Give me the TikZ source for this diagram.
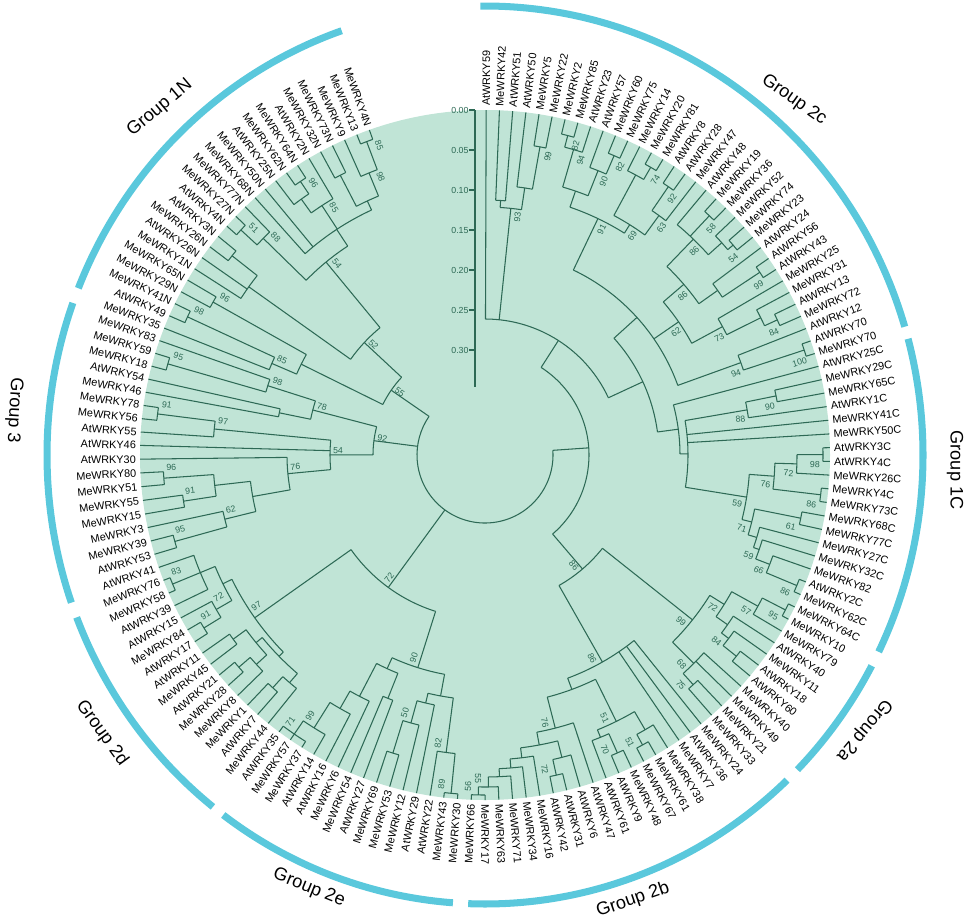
\documentclass[tikz,border=0pt]{standalone}
\usepackage{fontspec}
\setmainfont{Liberation Sans}
\definecolor{disc}{RGB}{192,228,214}
\definecolor{twig}{RGB}{45,105,85}
\definecolor{band}{RGB}{90,200,220}

% angle store for tree nodes
\makeatletter
\newcommand\setang[2]{\expandafter\xdef\csname tang@#1\endcsname{#2}}
\newcommand\getang[1]{\csname tang@#1\endcsname}
\makeatother

\def\rtip{345}
\def\rlab{349}

\tikzset{
  branch/.style={twig, line width=0.9pt},
  taxon/.style={inner sep=0pt, font=\fontsize{9.3}{10}\selectfont},
  boot/.style={inner sep=0pt, text=twig, font=\fontsize{7.5}{8}\selectfont},
  grp/.style={band, line width=6pt},
  grplabel/.style={inner sep=0pt, font=\fontsize{15.5}{16}\selectfont},
  scalelabel/.style={inner sep=0pt, anchor=east, text=twig, font=\fontsize{7.5}{8}\selectfont}
}

% leaf: name, index, text
\newcommand\lf[3]{%
  \ifnum#2<36
    \pgfmathsetmacro\lang{89.8-(#2-1)*2.203}%
  \else\ifnum#2<82
    \pgfmathsetmacro\lang{14.9-(#2-35)*2.28}%
  \else\ifnum#2<122
    \pgfmathsetmacro\lang{-90-(#2-81)*2.29}%
  \else
    \pgfmathsetmacro\lang{-181.6-(#2-121)*2.22}%
  \fi\fi\fi
  \setang{#1}{\lang}%
  \coordinate (#1) at (\lang:\rtip);%
  \pgfmathtruncatemacro\lside{\lang<-90?1:0}%
  \ifnum\lside=1
    \node[taxon, anchor=east, rotate=\lang+180] (t#1) at (\lang:\rlab) {#3};%
  \else
    \node[taxon, anchor=west, rotate=\lang] (t#1) at (\lang:\rlab) {#3};%
  \fi
}

% clade: [bootstrap] name, radius, children
\newcommand\cl[4][]{%
  \gdef\amin{1000}\gdef\amax{-1000}%
  \foreach \ch in {#4}{%
    \pgfmathsetmacro\tmpang{\getang{\ch}}%
    \pgfmathsetmacro\tmpx{min(\amin,\tmpang)}\global\let\amin\tmpx
    \pgfmathsetmacro\tmpx{max(\amax,\tmpang)}\global\let\amax\tmpx
  }%
  \pgfmathsetmacro\amid{(\amin+\amax)/2}%
  \setang{#2}{\amid}%
  \coordinate (#2) at (\amid:#3);%
  \draw[branch] (\amax:#3) arc[start angle=\amax, end angle=\amin, radius=#3];%
  \foreach \ch in {#4}{%
    \pgfmathsetmacro\tmpang{\getang{\ch}}%
    \draw[branch] (\tmpang:#3) -- (\ch);%
  }%
  \ifx\relax#1\relax\else
    \pgfmathsetmacro\bang{\amid-1.8}%
    \pgfmathsetmacro\brad{#3-8}%
    \pgfmathtruncatemacro\lside{\amid<-90?1:0}%
    \ifnum\lside=1
      \node[boot, rotate=\bang+180] (b#2) at (\bang:\brad) {#1};%
    \else
      \node[boot, rotate=\bang] (b#2) at (\bang:\brad) {#1};%
    \fi
  \fi
}

\begin{document}
\begin{tikzpicture}[x=0.3mm, y=0.3mm]
  \useasboundingbox (-485,-461) rectangle (479,455);

  % backdrop disc
  \fill[disc] (0,0) circle[radius=345];

  % taxa, clockwise from the top
  \lf{L1}{1}{AtWRKY59}
  \lf{L2}{2}{MeWRKY42}
  \lf{L3}{3}{AtWRKY51}
  \lf{L4}{4}{AtWRKY50}
  \lf{L5}{5}{MeWRKY5}
  \lf{L6}{6}{MeWRKY22}
  \lf{L7}{7}{MeWRKY2}
  \lf{L8}{8}{MeWRKY85}
  \lf{L9}{9}{AtWRKY23}
  \lf{L10}{10}{AtWRKY57}
  \lf{L11}{11}{MeWRKY60}
  \lf{L12}{12}{MeWRKY75}
  \lf{L13}{13}{MeWRKY14}
  \lf{L14}{14}{MeWRKY20}
  \lf{L15}{15}{MeWRKY81}
  \lf{L16}{16}{AtWRKY8}
  \lf{L17}{17}{AtWRKY28}
  \lf{L18}{18}{MeWRKY47}
  \lf{L19}{19}{AtWRKY48}
  \lf{L20}{20}{MeWRKY19}
  \lf{L21}{21}{MeWRKY36}
  \lf{L22}{22}{MeWRKY52}
  \lf{L23}{23}{MeWRKY74}
  \lf{L24}{24}{MeWRKY23}
  \lf{L25}{25}{AtWRKY24}
  \lf{L26}{26}{AtWRKY56}
  \lf{L27}{27}{AtWRKY43}
  \lf{L28}{28}{MeWRKY25}
  \lf{L29}{29}{MeWRKY31}
  \lf{L30}{30}{AtWRKY13}
  \lf{L31}{31}{MeWRKY72}
  \lf{L32}{32}{AtWRKY12}
  \lf{L33}{33}{AtWRKY70}
  \lf{L34}{34}{MeWRKY70}
  \lf{L35}{35}{AtWRKY25C}
  \lf{L36}{36}{MeWRKY29C}
  \lf{L37}{37}{MeWRKY65C}
  \lf{L38}{38}{AtWRKY1C}
  \lf{L39}{39}{MeWRKY41C}
  \lf{L40}{40}{MeWRKY50C}
  \lf{L41}{41}{AtWRKY3C}
  \lf{L42}{42}{AtWRKY4C}
  \lf{L43}{43}{MeWRKY26C}
  \lf{L44}{44}{MeWRKY4C}
  \lf{L45}{45}{MeWRKY73C}
  \lf{L46}{46}{MeWRKY68C}
  \lf{L47}{47}{MeWRKY77C}
  \lf{L48}{48}{MeWRKY27C}
  \lf{L49}{49}{MeWRKY32C}
  \lf{L50}{50}{MeWRKY82}
  \lf{L51}{51}{AtWRKY2C}
  \lf{L52}{52}{MeWRKY62C}
  \lf{L53}{53}{MeWRKY64C}
  \lf{L54}{54}{MeWRKY10}
  \lf{L55}{55}{MeWRKY79}
  \lf{L56}{56}{AtWRKY40}
  \lf{L57}{57}{MeWRKY11}
  \lf{L58}{58}{AtWRKY18}
  \lf{L59}{59}{AtWRKY60}
  \lf{L60}{60}{MeWRKY40}
  \lf{L61}{61}{MeWRKY49}
  \lf{L62}{62}{MeWRKY21}
  \lf{L63}{63}{MeWRKY33}
  \lf{L64}{64}{MeWRKY24}
  \lf{L65}{65}{AtWRKY36}
  \lf{L66}{66}{MeWRKY7}
  \lf{L67}{67}{MeWRKY38}
  \lf{L68}{68}{MeWRKY61}
  \lf{L69}{69}{MeWRKY67}
  \lf{L70}{70}{MeWRKY48}
  \lf{L71}{71}{AtWRKY9}
  \lf{L72}{72}{AtWRKY61}
  \lf{L73}{73}{AtWRKY47}
  \lf{L74}{74}{AtWRKY6}
  \lf{L75}{75}{AtWRKY31}
  \lf{L76}{76}{AtWRKY42}
  \lf{L77}{77}{MeWRKY16}
  \lf{L78}{78}{MeWRKY34}
  \lf{L79}{79}{MeWRKY71}
  \lf{L80}{80}{MeWRKY63}
  \lf{L81}{81}{MeWRKY17}
  \lf{L82}{82}{MeWRKY66}
  \lf{L83}{83}{MeWRKY30}
  \lf{L84}{84}{MeWRKY43}
  \lf{L85}{85}{AtWRKY22}
  \lf{L86}{86}{AtWRKY29}
  \lf{L87}{87}{MeWRKY12}
  \lf{L88}{88}{MeWRKY53}
  \lf{L89}{89}{MeWRKY69}
  \lf{L90}{90}{AtWRKY27}
  \lf{L91}{91}{MeWRKY54}
  \lf{L92}{92}{MeWRKY6}
  \lf{L93}{93}{AtWRKY16}
  \lf{L94}{94}{AtWRKY14}
  \lf{L95}{95}{MeWRKY37}
  \lf{L96}{96}{MeWRKY57}
  \lf{L97}{97}{AtWRKY35}
  \lf{L98}{98}{MeWRKY44}
  \lf{L99}{99}{AtWRKY7}
  \lf{L100}{100}{MeWRKY1}
  \lf{L101}{101}{MeWRKY8}
  \lf{L102}{102}{MeWRKY28}
  \lf{L103}{103}{AtWRKY21}
  \lf{L104}{104}{MeWRKY45}
  \lf{L105}{105}{AtWRKY11}
  \lf{L106}{106}{AtWRKY17}
  \lf{L107}{107}{MeWRKY84}
  \lf{L108}{108}{AtWRKY15}
  \lf{L109}{109}{AtWRKY39}
  \lf{L110}{110}{MeWRKY58}
  \lf{L111}{111}{MeWRKY76}
  \lf{L112}{112}{AtWRKY41}
  \lf{L113}{113}{AtWRKY53}
  \lf{L114}{114}{MeWRKY39}
  \lf{L115}{115}{MeWRKY3}
  \lf{L116}{116}{MeWRKY15}
  \lf{L117}{117}{MeWRKY55}
  \lf{L118}{118}{MeWRKY51}
  \lf{L119}{119}{MeWRKY80}
  \lf{L120}{120}{AtWRKY30}
  \lf{L121}{121}{AtWRKY46}
  \lf{L122}{122}{AtWRKY55}
  \lf{L123}{123}{MeWRKY56}
  \lf{L124}{124}{MeWRKY78}
  \lf{L125}{125}{MeWRKY46}
  \lf{L126}{126}{AtWRKY54}
  \lf{L127}{127}{MeWRKY18}
  \lf{L128}{128}{MeWRKY59}
  \lf{L129}{129}{MeWRKY83}
  \lf{L130}{130}{MeWRKY35}
  \lf{L131}{131}{AtWRKY49}
  \lf{L132}{132}{MeWRKY41N}
  \lf{L133}{133}{MeWRKY29N}
  \lf{L134}{134}{MeWRKY65N}
  \lf{L135}{135}{MeWRKY1N}
  \lf{L136}{136}{AtWRKY26N}
  \lf{L137}{137}{MeWRKY26N}
  \lf{L138}{138}{AtWRKY3N}
  \lf{L139}{139}{AtWRKY4N}
  \lf{L140}{140}{MeWRKY27N}
  \lf{L141}{141}{MeWRKY77N}
  \lf{L142}{142}{MeWRKY68N}
  \lf{L143}{143}{MeWRKY50N}
  \lf{L144}{144}{AtWRKY25N}
  \lf{L145}{145}{MeWRKY62N}
  \lf{L146}{146}{MeWRKY64N}
  \lf{L147}{147}{AtWRKY2N}
  \lf{L148}{148}{MeWRKY32N}
  \lf{L149}{149}{MeWRKY73N}
  \lf{L150}{150}{MeWRKY9}
  \lf{L151}{151}{MeWRKY13}
  \lf{L152}{152}{MeWRKY4N}

  % group 2c
  \cl{nA}{255}{L2,L3}
  \cl[99]{n99a}{313}{L5,L6}
  \cl{nB}{270}{L4,n99a}
  \cl[93]{n93}{248}{nA,nB}
  \cl[82]{n82a}{330}{L7,L8}
  \cl[94]{n94}{318}{n82a,L9}
  \cl[82]{n82b}{326}{L11,L12}
  \cl[90]{n90a}{306}{L10,n82b}
  \cl{nC}{279}{n94,n90a}
  \cl[74]{n74}{332}{L14,L15}
  \cl{nM1}{318}{L13,n74}
  \cl[92]{n92a}{325}{L16,L17}
  \cl[63]{n63}{296}{n92a,L18}
  \cl[69]{n69}{272}{nM1,n63}
  \cl[91]{n91a}{262}{nC,n69}
  \cl[58]{n58}{328}{L20,L21}
  \cl[54]{n54a}{325}{L23,L24}
  \cl{nM5}{318}{L22,n54a}
  \cl[86]{n86c}{300}{L19,n58,nM5}
  \cl[99]{n99b}{330}{L26,L27}
  \cl{nM6}{285}{L25,n99b}
  \cl[86]{n86b}{262}{n86c,nM6}
  \cl[84]{n84a}{322}{L30,L31}
  \cl{nM7}{308}{L29,n84a}
  \cl[73]{n73}{270}{L28,nM7}
  \cl[62]{n62a}{235}{n86b,n73}
  \cl[100]{n100}{336}{L33,L34}
  \cl[94]{n94b}{272}{L32,n100}
  \cl{nY}{205}{n91a,n62a,n94b}

  % group 1C
  \cl[90]{n90b}{297}{L36,L37}
  \cl[88]{n88}{266}{n90b,L38}
  \cl[98]{n98a}{338}{L41,L42}
  \cl[72]{n72a}{312}{n98a,L43}
  \cl[86]{n86d}{338}{L44,L45}
  \cl[76]{n76a}{290}{n72a,n86d}
  \cl[61]{n61}{322}{L46,L47}
  \cl[86]{n86e}{338}{L51,L52}
  \cl[66]{n66}{305}{L50,n86e}
  \cl[59]{n59b}{290}{L49,n66}
  \cl{nM8}{284}{L48,n59b}
  \cl[71]{n71}{275}{n61,nM8}
  \cl[59]{n59a}{265}{n76a,n71}
  \cl{n1Cb}{203}{n88,L39,L40,n59a}
  \cl{n1C}{195}{L35,n1Cb}
  \cl{nX}{174}{nY,n1C}
  \cl{nTop}{136}{L1,n93,nX}

  % group 2a
  \cl[95]{n95a}{338}{L53,L54}
  \cl[57]{n57}{312}{n95a,L55}
  \cl{nM9}{322}{L58,L59}
  \cl[84]{n84b}{305}{L57,nM9}
  \cl{nM11}{296}{L56,n84b}
  \cl[72]{n72b}{282}{n57,nM11}
  \cl[75]{n75a}{310}{L62,L63}
  \cl[68]{n68}{295}{L60,L61,n75a}
  \cl[99]{n99c}{265}{n72b,n68}

  % group 2b
  \cl[51]{n51a}{330}{L68,L69}
  \cl{nM12}{318}{L67,n51a}
  \cl[70]{n70}{326}{L70,L71}
  \cl{nM13}{305}{n70,L72}
  \cl[51]{n51b}{297}{nM12,nM13}
  \cl[72]{n72d}{328}{L75,L76}
  \cl{nM14}{312}{L74,n72d}
  \cl[56]{n56}{340}{L81,L82}
  \cl[55]{n55b}{332}{L80,n56}
  \cl{nM15}{322}{L79,n55b}
  \cl{nM16}{314}{L78,nM15}
  \cl{nM17}{305}{L77,nM16}
  \cl{nM18}{295}{nM14,nM17}
  \cl[76]{n76c}{282}{L73,nM18}
  \cl{n2b}{250}{n51b,n76c}
  \cl[86]{n86g}{238}{L64,L65,L66,n2b}
  \cl[86]{n86f}{150}{n99c,n86g}
  \cl{nR}{104}{nTop,n86f}

  % group 2e
  \cl[89]{n89}{340}{L83,L84}
  \cl[82]{n82c}{300}{L85,n89}
  \cl{nM19}{312}{L88,L89}
  \cl[50]{n50}{278}{L87,nM19}
  \cl{nM20}{255}{L86,n50}
  \cl{nE1}{245}{n82c,nM20}
  \cl[71]{n71b}{338}{L95,L96,L97}
  \cl[99]{n99d}{322}{L94,n71b}
  \cl{nM22}{292}{L93,n99d}
  \cl{nM23}{272}{L92,nM22}
  \cl{nM24}{262}{L90,L91}
  \cl{nE2}{235}{nM24,nM23}
  \cl[90]{n90c}{223}{nE1,nE2}

  % group 2d
  \cl[83]{n83}{338}{L110,L111}
  \cl{nD1}{308}{L109,n83,L112}
  \cl[91]{n91b}{330}{L106,L107}
  \cl[72]{n72e}{310}{n91b,L108}
  \cl{nD2}{292}{n72e,nD1}
  \cl{nD9}{315}{L99,L100}
  \cl{nD10}{300}{L98,nD9}
  \cl{nD4}{325}{L102,L103}
  \cl{nD5}{310}{L101,nD4}
  \cl{nD7}{312}{L104,L105}
  \cl{nD8}{296}{nD5,nD7}
  \cl{nDlow}{288}{nD10,nD8}
  \cl[97]{n97a}{282}{nDlow,nD2}
  \cl[72]{n72c}{164}{n90c,n97a}

  % group 3
  \cl[95]{n95b}{322}{L113,L114}
  \cl[62]{n62b}{268}{n95b,L115}
  \cl[91]{n91c}{305}{L116,L117}
  \cl[96]{n96a}{322}{L118,L119}
  \cl{nG1}{272}{n91c,n96a}
  \cl{n3low}{236}{n62b,nG1}
  \cl[76]{n76b}{198}{n3low,L120}
  \cl[91]{n91d}{330}{L123,L124}
  \cl[97]{n97b}{272}{L122,n91d}
  \cl[54]{n54b}{155}{n76b,L121,n97b}
  \cl{nK}{210}{L125,L126}
  \cl[95]{n95c}{330}{L127,L128}
  \cl[98]{n98b}{228}{n95c,L129}
  \cl[78]{n78}{178}{nK,n98b}
  \cl[92]{n92}{112}{n54b,n78}

  % group 1N
  \cl[98]{n98c}{328}{L131,L132}
  \cl[85]{n85c}{232}{L130,n98c}
  \cl[96]{n96c}{312}{L133,L134}
  \cl{nU1}{205}{n85c,n96c}
  \cl{nQ}{322}{L137,L138}
  \cl{nN1}{290}{L135,L136,nQ}
  \cl[51]{n51c}{332}{L139,L140}
  \cl[88]{n88b}{310}{n51c,L141}
  \cl[96]{n96b}{330}{L145,L146}
  \cl{nN2}{315}{L144,n96b}
  \cl[85]{n85b}{298}{nN2,L147}
  \cl{nN4}{315}{L148,L149}
  \cl[85]{n85a}{335}{L151,L152}
  \cl[98]{n98d}{305}{L150,n85a}
  \cl{nN5}{280}{nN4,n98d}
  \cl{nN6}{270}{L142,L143,n85b,nN5}
  \cl[54]{n54c}{250}{n88b,nN6}
  \cl[52]{n52}{165}{nN1,n54c}
  \cl[55]{n55a}{114}{nU1,n52}

  % root
  \cl{root}{68}{nR,n72c,n92,n55a}

  % scale bar
  \draw[branch] (-10,345) -- (-10,68);
  \foreach \v/\s in {0/0.00,1/0.05,2/0.10,3/0.15,4/0.20,5/0.25,6/0.30}{
    \draw[branch] (-10,{345-40*\v}) -- ++(-6,0) node[scalelabel] (s\v) {\s};
  }

  % group bands
  \draw[grp] (90.6:438 and 449) arc[start angle=90.6, end angle=16.6, x radius=438, y radius=449];
  \draw[grp] (15:438 and 449) arc[start angle=15, end angle=-26, x radius=438, y radius=449];
  \draw[grp] (-28:438 and 449) arc[start angle=-28, end angle=-44.5, x radius=438, y radius=449];
  \draw[grp] (-46.4:438 and 449) arc[start angle=-46.4, end angle=-92.2, x radius=438, y radius=449];
  \draw[grp] (-94.2:438 and 449) arc[start angle=-94.2, end angle=-126.7, x radius=438, y radius=449];
  \draw[grp] (-128.4:438 and 449) arc[start angle=-128.4, end angle=-158.8, x radius=438, y radius=449];
  \draw[grp] (-160.8:438 and 449) arc[start angle=-160.8, end angle=-199.8, x radius=438, y radius=449];
  \draw[grp] (-201.8:438 and 449) arc[start angle=-201.8, end angle=-250.9, x radius=438, y radius=449];

  % group names
  \node[grplabel, rotate=40] (g1N) at (-325,347) {Group 1N};
  \node[grplabel, rotate=-35] (g2c) at (309,355) {Group 2c};
  \node[grplabel, rotate=-90] (g1C) at (470,-15) {Group 1C};
  \node[grplabel, rotate=-130] (g2a) at (379,-275) {Group 2a};
  \node[grplabel, rotate=19] (g2b) at (148,-445) {Group 2b};
  \node[grplabel, rotate=-22] (g2e) at (-176,-433) {Group 2e};
  \node[grplabel, rotate=-54] (g2d) at (-383,-278) {Group 2d};
  \node[grplabel, rotate=-93] (g3) at (-471,45) {Group 3};
\end{tikzpicture}
\end{document}
